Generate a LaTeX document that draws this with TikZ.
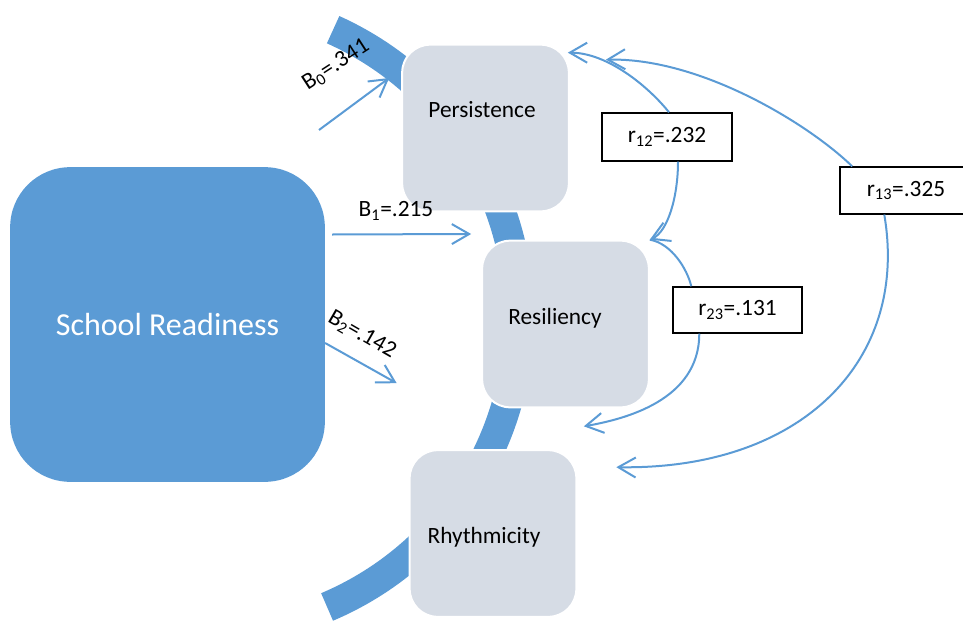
\documentclass[tikz,border=0pt]{standalone}
\usepackage{fontspec}
\setmainfont{Carlito}
\usepackage{xcolor}
\usetikzlibrary{arrows.meta, calc, positioning}
\definecolor{readyblue}{HTML}{5B9BD5}
\definecolor{traitgray}{HTML}{D6DCE5}

\begin{document}
\begin{tikzpicture}[x=0.75pt, y=0.75pt,
  trait/.style={rounded corners=21pt, fill=traitgray, draw=white, line width=1.5pt,
    minimum width=125pt, minimum height=125pt, inner sep=0pt},
  label text/.style={font=\fontsize{17.5}{21}\selectfont, inner sep=0pt},
  corrbox/.style={draw=black, fill=white, line width=1.1pt, inner sep=0pt,
    font=\fontsize{17.5}{21}\selectfont, minimum height=36pt},
  barb/.style={-{Straight Barb[length=13pt, width=15pt]}},
  link/.style={draw=readyblue, line width=1.5pt},
]
  \useasboundingbox (0,0) rectangle (963,-621);

  % background arc
  \coordinate (hub) at (204,-317);
  \draw[readyblue, line width=22.5pt] ($(hub)+(-67:315)$) arc (-67:65.8:315);

  % boxes
  \node[rounded corners=45pt, fill=readyblue, minimum size=236pt, inner sep=0pt,
    text=white, font=\fontsize{24}{29}\selectfont] (sr) at (167.5,-324.5) {School Readiness};
  \node[trait] (pers) at (485.5,-128) {};
  \node[trait] (res) at (565.5,-324) {};
  \node[trait] (rhy) at (493,-533.5) {};
  \node[label text] (perstext) at ($(pers)+(-3.5,18)$) {Persistence};
  \node[label text] (restext) at ($(res)+(-10.5,6)$) {Resiliency};
  \node[label text] (rhytext) at ($(rhy)+(-9,-3.5)$) {Rhythmicity};

  % regression paths
  \coordinate (b0tail) at (319,-130);
  \draw[link, barb] (b0tail) -- ($(pers.west)+(-12,50)$);
  \draw[link, barb] ($(sr.east)+(7,90)$) -- ($(res.west)+(-10,90)$);
  \draw[link, barb] ($(sr.east)+(0,-18.5)$) -- ($(rhy.north west)+(-12,66)$);
  \node[label text, rotate=33] (b0) at (336,-65) {B\textsubscript{0}=.341};
  \node[label text] (b1) at (396,-211) {B\textsubscript{1}=.215};
  \node[label text, rotate=-30] (b2) at (362,-335) {B\textsubscript{2}=.142};

  % correlation boxes
  \node[corrbox, minimum width=97.5pt] (r12) at (667,-137) {r\textsubscript{12}=.232};
  \node[corrbox, minimum width=96.75pt, minimum height=34.5pt] (r23) at (737.5,-310) {r\textsubscript{23}=.131};
  \node[corrbox, minimum width=99pt, minimum height=35pt] (r13) at (906,-190.5) {r\textsubscript{13}=.325};

  % correlation curves
  \coordinate (r12a) at ($(pers.north east)+(-2,-9)$);
  \coordinate (r23b) at ($(res.south east)+(-66,-18)$);
  \coordinate (r13a) at ($(pers.north east)+(36,-16)$);
  \coordinate (r13b) at ($(rhy.north east)+(39,-18)$);
  \draw[link, barb] ($(r12.north)+(2,0)$) .. controls +(-20,25) and +(40,0) .. (r12a);
  \draw[link, barb] ($(r12.south)+(11,0)$) .. controls +(0,-35) and +(18,8) .. (res.north east);
  \draw[link] (res.north east) .. controls +(22,-4) and +(-4,17) .. ($(r23.north west)+(19,0)$);
  \draw[link, barb] ($(r23.south west)+(27,0)$) .. controls +(0,-67) and +(40,7) .. (r23b);
  \draw[link, barb] ($(r13.north west)+(13,0)$) .. controls +(-43,42) and +(95,2) .. (r13a);
  \draw[link, barb] ($(r13.south west)+(45,0)$) .. controls +(25,-146) and +(185,-3) .. (r13b);
\end{tikzpicture}
\end{document}
